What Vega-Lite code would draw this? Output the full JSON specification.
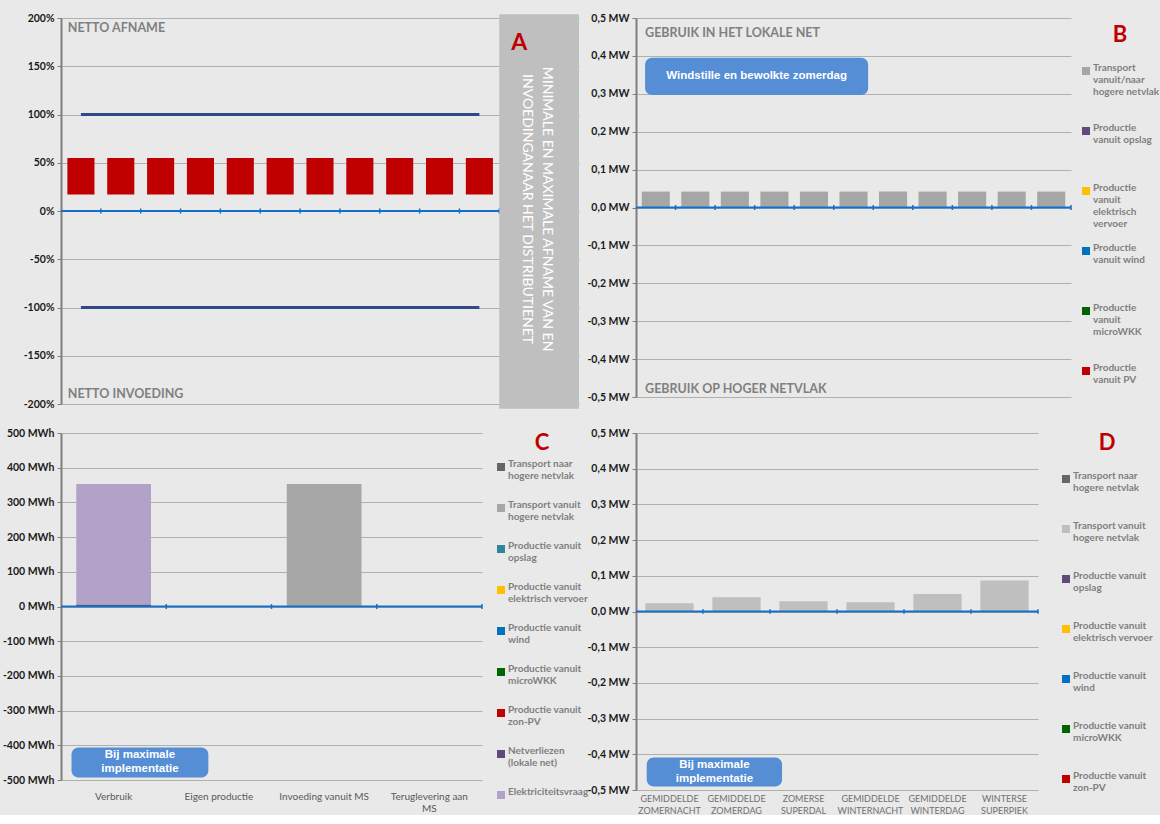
{
  "$schema": "https://vega.github.io/schema/vega-lite/v6.json",
  "background": "#e9e9e9",
  "padding": {"left": 2, "top": 13, "right": 0, "bottom": 0},
  "columns": 2,
  "bounds": "flush",
  "spacing": {"column": 57, "row": 29},
  "resolve": {"scale": {"x": "independent", "y": "independent", "color": "independent"}, "legend": {"color": "independent"}},
  "config": {
    "view": {"stroke": null},
    "font": "Lato",
    "axisY": {"domainColor": "#7f7f7f", "domainWidth": 2, "tickColor": "#7f7f7f", "tickSize": 4, "gridColor": "#b0b0b0", "labelFont": "Lato", "labelFontWeight": "bold", "labelFontSize": 10.5, "labelColor": "#1a1a1a", "labelPadding": 3, "labelOverlap": false, "title": null},
    "axisX": {"domain": false, "ticks": false, "grid": false, "labelAngle": 0, "labelFont": "Lato", "labelFontSize": 10, "labelColor": "#595959", "labelPadding": 11, "labelOverlap": false, "title": null},
    "legend": {"symbolType": "square", "symbolSize": 64, "symbolStrokeWidth": 0, "labelFont": "Lato", "labelFontWeight": "bold", "labelFontSize": 10, "labelColor": "#7f7f7f", "labelBaseline": "alphabetic", "labelOffset": 2, "gridAlign": "all", "titleColor": "#c00000", "titleFont": "Lato", "titleFontSize": 22, "titleFontWeight": "bold", "titleAnchor": "middle", "labelLimit": 200, "padding": 0}
  },
  "datasets": {
    "a": [
      {"cat": "1", "lo": 17, "hi": 55, "max": 100, "min": -100},
      {"cat": "2", "lo": 17, "hi": 55, "max": 100, "min": -100},
      {"cat": "3", "lo": 17, "hi": 55, "max": 100, "min": -100},
      {"cat": "4", "lo": 17, "hi": 55, "max": 100, "min": -100},
      {"cat": "5", "lo": 17, "hi": 55, "max": 100, "min": -100},
      {"cat": "6", "lo": 17, "hi": 55, "max": 100, "min": -100},
      {"cat": "7", "lo": 17, "hi": 55, "max": 100, "min": -100},
      {"cat": "8", "lo": 17, "hi": 55, "max": 100, "min": -100},
      {"cat": "9", "lo": 17, "hi": 55, "max": 100, "min": -100},
      {"cat": "10", "lo": 17, "hi": 55, "max": 100, "min": -100},
      {"cat": "11", "lo": 17, "hi": 55, "max": 100, "min": -100}
    ],
    "b": [
      {"cat": "1", "series": "Transport vanuit/naar hogere netvlak", "value": 0.042},
      {"cat": "2", "series": "Transport vanuit/naar hogere netvlak", "value": 0.042},
      {"cat": "3", "series": "Transport vanuit/naar hogere netvlak", "value": 0.042},
      {"cat": "4", "series": "Transport vanuit/naar hogere netvlak", "value": 0.042},
      {"cat": "5", "series": "Transport vanuit/naar hogere netvlak", "value": 0.042},
      {"cat": "6", "series": "Transport vanuit/naar hogere netvlak", "value": 0.042},
      {"cat": "7", "series": "Transport vanuit/naar hogere netvlak", "value": 0.042},
      {"cat": "8", "series": "Transport vanuit/naar hogere netvlak", "value": 0.042},
      {"cat": "9", "series": "Transport vanuit/naar hogere netvlak", "value": 0.042},
      {"cat": "10", "series": "Transport vanuit/naar hogere netvlak", "value": 0.042},
      {"cat": "11", "series": "Transport vanuit/naar hogere netvlak", "value": 0.042}
    ],
    "c": [
      {"cat": "Verbruik", "series": "Elektriciteitsvraag", "value": 348},
      {"cat": "Verbruik", "series": "Netverliezen (lokale net)", "value": 5},
      {"cat": "Invoeding vanuit MS", "series": "Transport vanuit hogere netvlak", "value": 353}
    ],
    "d": [
      {"cat": "GEMIDDELDE ZOMERNACHT", "series": "Transport vanuit hogere netvlak", "value": 0.023},
      {"cat": "GEMIDDELDE ZOMERDAG", "series": "Transport vanuit hogere netvlak", "value": 0.04},
      {"cat": "ZOMERSE SUPERDAL", "series": "Transport vanuit hogere netvlak", "value": 0.029},
      {"cat": "GEMIDDELDE WINTERNACHT", "series": "Transport vanuit hogere netvlak", "value": 0.026},
      {"cat": "GEMIDDELDE WINTERDAG", "series": "Transport vanuit hogere netvlak", "value": 0.049},
      {"cat": "WINTERSE SUPERPIEK", "series": "Transport vanuit hogere netvlak", "value": 0.087}
    ]
  },
  "concat": [
    {
      "width": 518,
      "height": 386,
      "data": {"name": "a"},
      "layer": [
        {
          "mark": {"type": "bar", "color": "#c00000", "width": {"band": 0.68}},
          "encoding": {
            "x": {"field": "cat", "type": "nominal", "sort": null, "scale": {"domain": ["1","2","3","4","5","6","7","8","9","10","11","_1","_2"], "paddingInner": 0, "paddingOuter": 0}, "axis": null},
            "y": {"field": "hi", "type": "quantitative", "scale": {"domain": [-200, 200], "nice": false, "zero": false}, "axis": {"values": [-200,-150,-100,-50,0,50,100,150,200], "tickCount": 20, "labelExpr": "datum.value + '%'", "grid": true, "labelOverlap": false}},
            "y2": {"field": "lo"}
          }
        },
        {
          "mark": {"type": "line", "color": "#2e4a87", "strokeWidth": 3},
          "encoding": {"x": {"field": "cat", "type": "nominal", "sort": null}, "y": {"field": "max", "type": "quantitative"}}
        },
        {
          "mark": {"type": "line", "color": "#2e4a87", "strokeWidth": 3},
          "encoding": {"x": {"field": "cat", "type": "nominal", "sort": null}, "y": {"field": "min", "type": "quantitative"}}
        },
        {
          "data": {"values": [{}]},
          "mark": {"type": "rule", "color": "#1370c8", "strokeWidth": 2},
          "encoding": {"y": {"datum": 0, "type": "quantitative"}}
        },
        {
          "mark": {"type": "rule", "color": "#1370c8", "strokeWidth": 1.5},
          "encoding": {"x": {"field": "cat", "type": "nominal", "sort": null, "bandPosition": 1}, "y": {"datum": -2.6}, "y2": {"datum": 2.6}}
        },
        {
          "data": {"values": [{}]},
          "mark": {"type": "rect", "color": "#bfbfbf"},
          "encoding": {"x": {"datum": "_1", "bandPosition": 0}, "x2": {"datum": "_2", "bandPosition": 1}, "y": {"datum": 204}, "y2": {"datum": -205}}
        },
        {
          "data": {"values": [{}]},
          "mark": {"type": "text", "text": ["MINIMALE EN MAXIMALE AFNAME VAN EN", "INVOEDINGANAAR HET DISTRIBUTIENET"], "angle": 90, "align": "center", "baseline": "middle", "lineHeight": 20, "fontSize": 14, "font": "Lato", "color": "#ffffff"},
          "encoding": {"x": {"datum": "_2", "bandPosition": 0.2}, "y": {"datum": 2}}
        },
        {
          "data": {"values": [{}]},
          "mark": {"type": "text", "text": "A", "align": "center", "baseline": "middle", "fontSize": 23, "fontWeight": "bold", "font": "Lato", "color": "#c00000"},
          "encoding": {"x": {"datum": "_1", "bandPosition": 0.5}, "y": {"datum": 174}}
        },
        {
          "data": {"values": [{}]},
          "mark": {"type": "text", "text": "NETTO AFNAME", "align": "left", "baseline": "middle", "fontSize": 12.5, "fontWeight": "bold", "font": "Lato", "color": "#808080"},
          "encoding": {"x": {"datum": "1", "bandPosition": 0.17}, "y": {"datum": 190}}
        },
        {
          "data": {"values": [{}]},
          "mark": {"type": "text", "text": "NETTO INVOEDING", "align": "left", "baseline": "middle", "fontSize": 12.5, "fontWeight": "bold", "font": "Lato", "color": "#808080"},
          "encoding": {"x": {"datum": "1", "bandPosition": 0.17}, "y": {"datum": -190}}
        }
      ]
    },
    {
      "width": 435,
      "height": 379,
      "data": {"name": "b"},
      "layer": [
        {
          "mark": {"type": "bar", "width": {"band": 0.71}},
          "encoding": {
            "x": {"field": "cat", "type": "nominal", "sort": null, "scale": {"domain": ["1","2","3","4","5","6","7","8","9","10","11"], "paddingInner": 0, "paddingOuter": 0}, "axis": null},
            "y": {"field": "value", "type": "quantitative", "scale": {"domain": [-0.5, 0.5], "nice": false, "zero": false}, "axis": {"values": [-0.5,-0.4,-0.3,-0.2,-0.1,0,0.1,0.2,0.3,0.4,0.5], "tickCount": 20, "labelExpr": "(datum.value < -0.001 ? '-' : '') + replace(format(abs(datum.value), '.1f'), '.', ',') + ' MW'", "grid": true, "labelOverlap": false}},
            "color": {
              "field": "series", "type": "nominal",
              "scale": {"domain": ["Transport vanuit/naar hogere netvlak", "Productie vanuit opslag", "Productie vanuit elektrisch vervoer", "Productie vanuit wind", "Productie vanuit microWKK", "Productie vanuit PV"], "range": ["#a6a6a6", "#604a7b", "#ffc000", "#0070c0", "#006400", "#c00000"]},
              "legend": {"title": "B", "offset": 3, "padding": 7, "rowPadding": 14, "titlePadding": 19, "labelExpr": "({'Transport vanuit/naar hogere netvlak': ['Transport', 'vanuit/naar', 'hogere netvlak'], 'Productie vanuit opslag': ['Productie', 'vanuit opslag'], 'Productie vanuit elektrisch vervoer': ['Productie', 'vanuit', 'elektrisch', 'vervoer'], 'Productie vanuit wind': ['Productie', 'vanuit wind'], 'Productie vanuit microWKK': ['Productie', 'vanuit', 'microWKK'], 'Productie vanuit PV': ['Productie', 'vanuit PV']})[datum.label]"}
            }
          }
        },
        {
          "data": {"values": [{}]},
          "mark": {"type": "rule", "color": "#1370c8", "strokeWidth": 2},
          "encoding": {"y": {"datum": 0, "type": "quantitative"}}
        },
        {
          "mark": {"type": "rule", "color": "#1370c8", "strokeWidth": 1.5},
          "encoding": {"x": {"field": "cat", "type": "nominal", "sort": null, "bandPosition": 1}, "y": {"datum": -0.0065}, "y2": {"datum": 0.0065}}
        },
        {
          "data": {"values": [{}]},
          "mark": {"type": "rect", "color": "#558ed5", "cornerRadius": 7},
          "encoding": {"x": {"datum": "1", "bandPosition": 0.23}, "x2": {"datum": "6", "bandPosition": 0.87}, "y": {"datum": 0.395}, "y2": {"datum": 0.297}}
        },
        {
          "data": {"values": [{}]},
          "mark": {"type": "text", "text": "Windstille en bewolkte zomerdag", "align": "center", "baseline": "middle", "fontSize": 11.5, "fontWeight": "bold", "font": "Liberation Sans", "color": "#ffffff"},
          "encoding": {"x": {"datum": "4", "bandPosition": 0.05}, "y": {"datum": 0.347}}
        },
        {
          "data": {"values": [{}]},
          "mark": {"type": "text", "text": "GEBRUIK IN HET LOKALE NET", "align": "left", "baseline": "middle", "fontSize": 12.5, "fontWeight": "bold", "font": "Lato", "color": "#808080"},
          "encoding": {"x": {"datum": "1", "bandPosition": 0.23}, "y": {"datum": 0.46}}
        },
        {
          "data": {"values": [{}]},
          "mark": {"type": "text", "text": "GEBRUIK OP HOGER NETVLAK", "align": "left", "baseline": "middle", "fontSize": 12.5, "fontWeight": "bold", "font": "Lato", "color": "#808080"},
          "encoding": {"x": {"datum": "1", "bandPosition": 0.23}, "y": {"datum": -0.478}}
        }
      ]
    },
    {
      "width": 421,
      "height": 347,
      "data": {"name": "c"},
      "layer": [
        {
          "mark": {"type": "bar", "width": {"band": 0.71}},
          "encoding": {
            "x": {"field": "cat", "type": "nominal", "sort": null, "scale": {"domain": ["Verbruik", "Eigen productie", "Invoeding vanuit MS", "Teruglevering aan MS"], "paddingInner": 0, "paddingOuter": 0}, "axis": {"labelExpr": "datum.label == 'Teruglevering aan MS' ? ['Teruglevering aan', 'MS'] : datum.label"}},
            "y": {"field": "value", "type": "quantitative", "scale": {"domain": [-500, 500], "nice": false, "zero": false}, "axis": {"values": [-500,-400,-300,-200,-100,0,100,200,300,400,500], "tickCount": 20, "labelExpr": "datum.value + ' MWh'", "grid": true, "labelOverlap": false}},
            "color": {
              "field": "series", "type": "nominal",
              "scale": {"domain": ["Transport naar hogere netvlak", "Transport vanuit hogere netvlak", "Productie vanuit opslag", "Productie vanuit elektrisch vervoer", "Productie vanuit wind", "Productie vanuit microWKK", "Productie vanuit zon-PV", "Netverliezen (lokale net)", "Elektriciteitsvraag"], "range": ["#666666", "#a6a6a6", "#31859c", "#ffc000", "#0070c0", "#006400", "#c00000", "#604a7b", "#b3a2c7"]},
              "legend": {"title": "C", "offset": 14, "rowPadding": 19, "titlePadding": 7, "labelExpr": "({'Transport naar hogere netvlak': ['Transport naar', 'hogere netvlak'], 'Transport vanuit hogere netvlak': ['Transport vanuit', 'hogere netvlak'], 'Productie vanuit opslag': ['Productie vanuit', 'opslag'], 'Productie vanuit elektrisch vervoer': ['Productie vanuit', 'elektrisch vervoer'], 'Productie vanuit wind': ['Productie vanuit', 'wind'], 'Productie vanuit microWKK': ['Productie vanuit', 'microWKK'], 'Productie vanuit zon-PV': ['Productie vanuit', 'zon-PV'], 'Netverliezen (lokale net)': ['Netverliezen', '(lokale net)'], 'Elektriciteitsvraag': 'Elektriciteitsvraag'})[datum.label]"}
            }
          }
        },
        {
          "data": {"values": [{}]},
          "mark": {"type": "rule", "color": "#1370c8", "strokeWidth": 2},
          "encoding": {"y": {"datum": 0, "type": "quantitative"}}
        },
        {
          "data": {"values": [{"cat": "Verbruik"}, {"cat": "Eigen productie"}, {"cat": "Invoeding vanuit MS"}, {"cat": "Teruglevering aan MS"}]},
          "mark": {"type": "rule", "color": "#1370c8", "strokeWidth": 1.5},
          "encoding": {"x": {"field": "cat", "type": "nominal", "sort": null, "bandPosition": 1}, "y": {"datum": -7}, "y2": {"datum": 7}}
        },
        {
          "data": {"values": [{}]},
          "mark": {"type": "rect", "color": "#558ed5", "cornerRadius": 7},
          "encoding": {"x": {"datum": "Verbruik", "bandPosition": 0.1}, "x2": {"datum": "Eigen productie", "bandPosition": 0.4}, "y": {"datum": -406}, "y2": {"datum": -493}}
        },
        {
          "data": {"values": [{}]},
          "mark": {"type": "text", "text": ["Bij maximale", "implementatie"], "align": "center", "baseline": "middle", "lineHeight": 13.5, "fontSize": 11.5, "fontWeight": "bold", "font": "Liberation Sans", "color": "#ffffff"},
          "encoding": {"x": {"datum": "Verbruik", "bandPosition": 0.75}, "y": {"datum": -428}}
        }
      ]
    },
    {
      "width": 402,
      "height": 357,
      "data": {"name": "d"},
      "layer": [
        {
          "mark": {"type": "bar", "width": {"band": 0.72}},
          "encoding": {
            "x": {"field": "cat", "type": "nominal", "sort": null, "scale": {"domain": ["GEMIDDELDE ZOMERNACHT", "GEMIDDELDE ZOMERDAG", "ZOMERSE SUPERDAL", "GEMIDDELDE WINTERNACHT", "GEMIDDELDE WINTERDAG", "WINTERSE SUPERPIEK"], "paddingInner": 0, "paddingOuter": 0}, "axis": {"labelExpr": "split(datum.label, ' ')", "labelFontSize": 9, "labelColor": "#707070", "labelPadding": 4, "labelLineHeight": 12}},
            "y": {"field": "value", "type": "quantitative", "scale": {"domain": [-0.5, 0.5], "nice": false, "zero": false}, "axis": {"values": [-0.5,-0.4,-0.3,-0.2,-0.1,0,0.1,0.2,0.3,0.4,0.5], "tickCount": 20, "labelExpr": "(datum.value < -0.001 ? '-' : '') + replace(format(abs(datum.value), '.1f'), '.', ',') + ' MW'", "grid": true, "labelOverlap": false}},
            "color": {
              "field": "series", "type": "nominal",
              "scale": {"domain": ["Transport naar hogere netvlak", "Transport vanuit hogere netvlak", "Productie vanuit opslag", "Productie vanuit elektrisch vervoer", "Productie vanuit wind", "Productie vanuit microWKK", "Productie vanuit zon-PV"], "range": ["#666666", "#bfbfbf", "#604a7b", "#ffc000", "#0070c0", "#006400", "#c00000"]},
              "legend": {"title": "D", "offset": 23, "rowPadding": 28, "titlePadding": 19, "labelExpr": "({'Transport naar hogere netvlak': ['Transport naar', 'hogere netvlak'], 'Transport vanuit hogere netvlak': ['Transport vanuit', 'hogere netvlak'], 'Productie vanuit opslag': ['Productie vanuit', 'opslag'], 'Productie vanuit elektrisch vervoer': ['Productie vanuit', 'elektrisch vervoer'], 'Productie vanuit wind': ['Productie vanuit', 'wind'], 'Productie vanuit microWKK': ['Productie vanuit', 'microWKK'], 'Productie vanuit zon-PV': ['Productie vanuit', 'zon-PV']})[datum.label]"}
            }
          }
        },
        {
          "data": {"values": [{}]},
          "mark": {"type": "rule", "color": "#1370c8", "strokeWidth": 2},
          "encoding": {"y": {"datum": 0, "type": "quantitative"}}
        },
        {
          "mark": {"type": "rule", "color": "#1370c8", "strokeWidth": 1.5},
          "encoding": {"x": {"field": "cat", "type": "nominal", "sort": null, "bandPosition": 1}, "y": {"datum": -0.0065}, "y2": {"datum": 0.0065}}
        },
        {
          "data": {"values": [{}]},
          "mark": {"type": "rect", "color": "#558ed5", "cornerRadius": 7},
          "encoding": {"x": {"datum": "GEMIDDELDE ZOMERNACHT", "bandPosition": 0.16}, "x2": {"datum": "ZOMERSE SUPERDAL", "bandPosition": 0.18}, "y": {"datum": -0.409}, "y2": {"datum": -0.49}}
        },
        {
          "data": {"values": [{}]},
          "mark": {"type": "text", "text": ["Bij maximale", "implementatie"], "align": "center", "baseline": "middle", "lineHeight": 13.5, "fontSize": 11.5, "fontWeight": "bold", "font": "Liberation Sans", "color": "#ffffff"},
          "encoding": {"x": {"datum": "GEMIDDELDE ZOMERDAG", "bandPosition": 0.17}, "y": {"datum": -0.431}}
        }
      ]
    }
  ]
}
